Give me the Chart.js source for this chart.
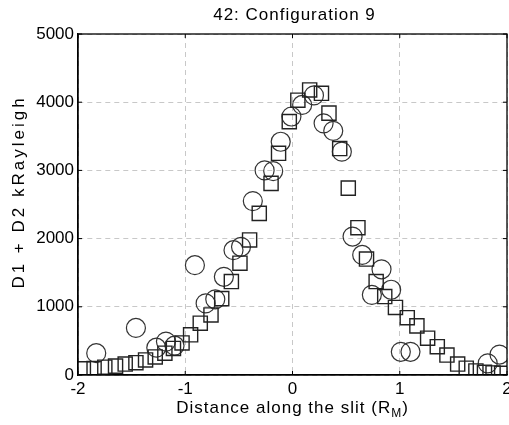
<!DOCTYPE html>
<html>
<head>
<meta charset="utf-8">
<script src="https://cdn.jsdelivr.net/npm/chart.js@4"></script>
<style>
html, body { margin: 0; padding: 0; background: #fff; }
</style>
</head>
<body>
<canvas id="myChart" width="509" height="425"></canvas>
<script>
// squares (first series)
const squareX = [-1.95, -1.85, -1.75, -1.65, -1.56, -1.46, -1.37, -1.28, -1.19, -1.11,
  -1.03, -0.95, -0.86, -0.76, -0.66, -0.57, -0.49, -0.40, -0.31, -0.20,
  -0.13, -0.03, 0.05, 0.16, 0.27, 0.34, 0.44, 0.52, 0.61, 0.69,
  0.78, 0.86, 0.96, 1.07, 1.16, 1.26, 1.35, 1.44, 1.54, 1.62,
  1.71, 1.79, 1.87, 1.95];
const squareY = [90, 95, 115, 130, 160, 180, 220, 265, 320, 390,
  470, 590, 760, 880, 1120, 1370, 1640, 1980, 2370, 2810,
  3250, 3715, 4030, 4180, 4130, 3840, 3320, 2740, 2160, 1700,
  1370, 1150, 990, 840, 720, 540, 415, 293, 160, 100,
  60, 40, 30, 25];
// circles (second series)
const circleX = [-1.83, -1.46, -1.27, -1.18, -1.10, -0.91, -0.81, -0.72, -0.64, -0.55,
  -0.48, -0.37, -0.26, -0.18, -0.11, -0.01, 0.09, 0.20, 0.29, 0.38,
  0.46, 0.56, 0.65, 0.74, 0.83, 0.92, 1.01, 1.10, 1.82, 1.93];
const circleY = [320, 690, 400, 490, 430, 1610, 1050, 1110, 1440, 1830,
  1880, 2550, 3000, 2990, 3420, 3790, 3960, 4100, 3690, 3580,
  3275, 2030, 1760, 1175, 1550, 1250, 340, 340, 170, 300];
const xTicks = [-2, -1, 0, 1, 2];
const yTicks = [0, 1000, 2000, 3000, 4000, 5000];
const titleText = "42: Configuration 9";
const xLabel = "Distance along the slit (R";
const xLabelSub = "M";
const yLabel = "D1 + D2 kRayleigh";

const FONT = "'Liberation Sans', Arial, sans-serif";

const squares = squareX.map((x, i) => ({ x: x, y: squareY[i] }));
const circles = circleX.map((x, i) => ({ x: x, y: circleY[i] }));

// box round the plot, inward ticks, title and axis labels
const frame = {
  id: "frame",
  afterDraw(chart) {
    const { ctx, chartArea: a, scales } = chart;
    ctx.save();
    ctx.strokeStyle = "#000";
    ctx.lineWidth = 1.3;
    ctx.strokeRect(a.left, a.top, a.right - a.left, a.bottom - a.top);
    ctx.lineWidth = 1;
    ctx.beginPath();
    xTicks.forEach((t) => {
      const px = scales.x.getPixelForValue(t);
      ctx.moveTo(px, a.bottom); ctx.lineTo(px, a.bottom - 4);
      ctx.moveTo(px, a.top); ctx.lineTo(px, a.top + 4);
    });
    yTicks.forEach((t) => {
      const py = scales.y.getPixelForValue(t);
      ctx.moveTo(a.left, py); ctx.lineTo(a.left + 4, py);
      ctx.moveTo(a.right, py); ctx.lineTo(a.right - 4, py);
    });
    ctx.stroke();

    const cx = (a.left + a.right) / 2;
    ctx.fillStyle = "#000";
    ctx.textBaseline = "alphabetic";

    // title
    ctx.letterSpacing = "1px";
    ctx.font = "17px " + FONT;
    ctx.textAlign = "center";
    ctx.fillText(titleText, cx + 2, 20);

    // x label with subscript
    ctx.textAlign = "left";
    ctx.font = "17px " + FONT;
    const w1 = ctx.measureText(xLabel).width;
    const w3 = ctx.measureText(")").width;
    ctx.font = "12px " + FONT;
    const w2 = ctx.measureText(xLabelSub).width;
    const x0 = cx - (w1 + w2 + w3) / 2;
    const base = 413;
    ctx.font = "17px " + FONT;
    ctx.fillText(xLabel, x0, base);
    ctx.font = "12px " + FONT;
    ctx.fillText(xLabelSub, x0 + w1, base + 4);
    ctx.font = "17px " + FONT;
    ctx.fillText(")", x0 + w1 + w2, base);

    // y label
    ctx.letterSpacing = "3px";
    ctx.font = "17px " + FONT;
    ctx.textAlign = "center";
    ctx.translate(24, 192);
    ctx.rotate(-Math.PI / 2);
    ctx.fillText(yLabel, 0, 0);
    ctx.restore();
  },
};

const data = {
  datasets: [
    {
      label: "squares",
      data: squares,
      pointStyle: "rect",
      pointRadius: 10,
      pointHoverRadius: 10,
      borderColor: "#222",
      backgroundColor: "rgba(0,0,0,0)",
      borderWidth: 1.4,
      showLine: false,
    },
    {
      label: "circles",
      data: circles,
      pointStyle: "circle",
      pointRadius: 9.5,
      pointHoverRadius: 9.5,
      borderColor: "#333",
      backgroundColor: "rgba(0,0,0,0)",
      borderWidth: 1.2,
      showLine: false,
    },
  ],
};

const config = {
  type: "scatter",
  data: data,
  options: {
    responsive: false,
    animation: false,
    events: [],
    layout: { autoPadding: false, padding: { left: 0, right: 2, top: 34, bottom: 0 } },
    plugins: {
      legend: { display: false },
      tooltip: { enabled: false },
      title: { display: false },
    },
    scales: {
      x: {
        type: "linear",
        min: -2,
        max: 2,
        afterBuildTicks: (s) => { s.ticks = xTicks.map((v) => ({ value: v })); },
        afterFit: (s) => { s.height = 50; s.paddingLeft = 0; s.paddingRight = 0; },
        ticks: { color: "#000", padding: 4, font: { family: FONT, size: 17 }, maxRotation: 0,
          callback: (v) => String(v) },
        grid: { color: "#c8c8c8", lineWidth: 1, drawTicks: false },
        border: { display: true, color: "#000", width: 1.3, dash: [5, 4] },
      },
      y: {
        type: "linear",
        min: 0,
        max: 5000,
        afterBuildTicks: (s) => { s.ticks = yTicks.map((v) => ({ value: v })); },
        afterFit: (s) => { s.width = 78; s.paddingTop = 0; s.paddingBottom = 0; },
        ticks: { color: "#000", padding: 4, font: { family: FONT, size: 17 },
          callback: (v) => String(v) },
        grid: { color: "#c8c8c8", lineWidth: 1, drawTicks: false },
        border: { display: true, color: "#000", width: 1.3, dash: [5, 4] },
      },
    },
  },
  plugins: [frame],
};

const myChart = new Chart(document.getElementById("myChart"), config);
</script>
</body>
</html>
